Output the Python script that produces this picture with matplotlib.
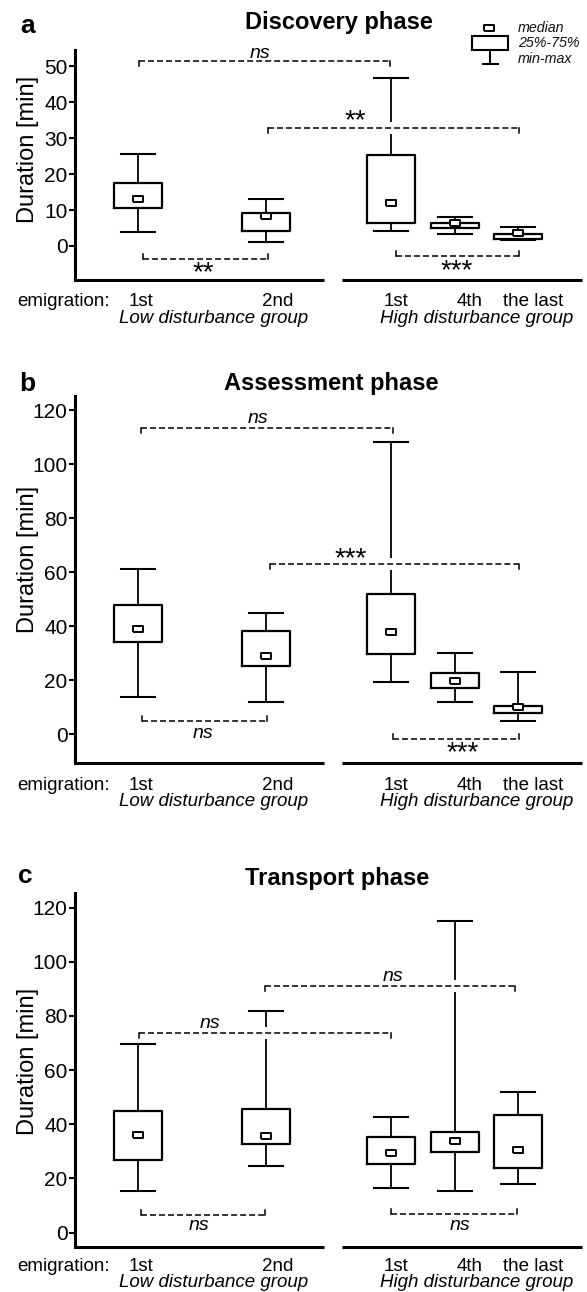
import matplotlib

matplotlib.use("Agg")
import matplotlib.pyplot as plt
import matplotlib.transforms as mtransforms
from matplotlib.patches import Rectangle

plt.rcParams['font.family'] = ['Liberation Sans', 'DejaVu Sans']

W, H, DPI = 587, 1292, 100

# box positions and x labels
positions = [1, 2, 2.98, 3.48, 3.97]
label_pos = [1.02, 2.09, 3.02, 3.59, 4.09]
labels = ["1st", "2nd", "1st", "4th", "the last"]

# Discovery phase (min, q1, median, q3, max)
disc_min = [4.0, 1.1, 4.2, 3.3, 1.8]
disc_q1 = [10.5, 4.2, 6.3, 5.1, 1.9]
disc_med = [13.1, 8.2, 11.9, 6.5, 3.7]
disc_q3 = [17.5, 9.3, 25.4, 6.4, 3.4]
disc_max = [25.7, 13.0, 46.8, 8.1, 5.3]

# Assessment phase
assess_min = [13.9, 12.0, 19.2, 11.8, 4.8]
assess_q1 = [34.3, 25.3, 29.7, 17.0, 7.8]
assess_med = [38.9, 29.1, 37.9, 19.6, 10.0]
assess_q3 = [47.9, 38.1, 51.9, 22.6, 10.5]
assess_max = [61.3, 44.9, 108.2, 30.2, 23.1]

# Transport phase
trans_min = [15.5, 24.7, 16.6, 15.5, 17.8]
trans_q1 = [26.8, 32.7, 25.4, 29.9, 23.8]
trans_med = [35.9, 35.7, 29.5, 33.8, 30.5]
trans_q3 = [44.9, 45.7, 35.2, 37.3, 43.3]
trans_max = [69.5, 82.0, 42.7, 115.1, 51.8]

# significance brackets: x1, x2, y, ticks down?, label, label x, label y (glyph centre)
disc_sig = [
    (1.01, 2.97, 51.4, True, "ns", 1.95, 53.8),
    (2.02, 3.98, 32.9, True, "**", 2.70, 35.9),
    (1.04, 2.02, -3.7, False, "**", 1.51, -6.4),
    (3.02, 3.98, -2.8, False, "***", 3.49, -5.8),
]
assess_sig = [
    (1.02, 2.99, 113.2, True, "ns", 1.94, 116.9),
    (2.03, 3.98, 63.0, True, "***", 2.66, 66.4),
    (1.03, 2.01, 5.1, False, "ns", 1.51, 0.4),
    (2.99, 3.98, -1.7, False, "***", 3.54, -5.4),
]
trans_sig = [
    (1.01, 2.98, 73.7, True, "ns", 1.56, 77.3),
    (1.99, 3.95, 91.1, True, "ns", 2.99, 94.8),
    (1.02, 1.99, 6.5, False, "ns", 1.48, 2.8),
    (2.98, 3.96, 6.8, False, "ns", 3.52, 2.8),
]

panels = [
    dict(letter="a", title="Discovery phase", mins=disc_min, q1=disc_q1, med=disc_med, q3=disc_q3,
         maxs=disc_max, sig=disc_sig, top=50, bottom=280, ylim=(-9.46, 54.5), yticks=range(0, 51, 10),
         letter_xy=(20, 33), title_xy=(339, 29), ylab_y=149, lab_off=26, grp_off=43),
    dict(letter="b", title="Assessment phase", mins=assess_min, q1=assess_q1, med=assess_med, q3=assess_q3,
         maxs=assess_max, sig=assess_sig, top=395.7, bottom=763.3, ylim=(-10.7, 125.3), yticks=range(0, 121, 20),
         letter_xy=(19, 391), title_xy=(331, 390), ylab_y=559, lab_off=27, grp_off=43),
    dict(letter="c", title="Transport phase", mins=trans_min, q1=trans_q1, med=trans_med, q3=trans_q3,
         maxs=trans_max, sig=trans_sig, top=893.3, bottom=1246.7, ylim=(-5.2, 125.3), yticks=range(0, 121, 20),
         letter_xy=(18, 883), title_xy=(337, 885), ylab_y=1061, lab_off=24, grp_off=40),
]

AX_LEFT, AX_RIGHT = 75, 582
XLIM = (0.508, 4.47)
LEFT_END, RIGHT_START = 2.453, 2.594

median_marker = [(-1, -0.5), (1, -0.5), (1, 0.5), (-1, 0.5), (-1, -0.5)]
STAR_SIZE, NS_SIZE = 20, 14

fig = plt.figure(figsize=(W / DPI, H / DPI), dpi=DPI)

# overlay in pixel coordinates for titles, panel letters and the key
over = fig.add_axes([0, 0, 1, 1])
over.set_xlim(0, W)
over.set_ylim(H, 0)
over.axis("off")

for p in panels:
    ax = fig.add_axes([AX_LEFT / W, (H - p["bottom"]) / H,
                       (AX_RIGHT - AX_LEFT) / W, (p["bottom"] - p["top"]) / H])
    ax.set_xlim(*XLIM)
    ax.set_ylim(*p["ylim"])
    ax.patch.set_alpha(0)

    stats = [dict(med=m, q1=a, q3=b, whislo=lo, whishi=hi)
             for lo, a, m, b, hi in zip(p["mins"], p["q1"], p["med"], p["q3"], p["maxs"])]
    ax.bxp(stats, positions=positions, widths=0.375, capwidths=0.266, showfliers=False,
           boxprops=dict(color="black", linewidth=1.6),
           whiskerprops=dict(color="black", linewidth=1.3),
           capprops=dict(color="black", linewidth=1.5),
           medianprops=dict(linestyle="none"),
           manage_ticks=False)
    ax.plot(positions, p["med"], linestyle="none", marker=median_marker, markersize=7.6,
            markerfacecolor="white", markeredgecolor="black", markeredgewidth=1.4, zorder=6)

    for side in ("top", "right", "bottom"):
        ax.spines[side].set_visible(False)
    ax.spines["left"].set_linewidth(2.2)
    ax.set_yticks(list(p["yticks"]))
    ax.tick_params(axis="y", length=4.3, width=1.5, pad=1, labelsize=15)
    ax.set_xticks([])

    # split x axis
    xtr = ax.get_xaxis_transform()
    ax.plot([XLIM[0], LEFT_END], [0, 0], transform=xtr, color="black", lw=2.2,
            solid_capstyle="butt", clip_on=False)
    ax.plot([RIGHT_START, XLIM[1]], [0, 0], transform=xtr, color="black", lw=2.2,
            solid_capstyle="butt", clip_on=False)

    # x labels
    lab_tr = mtransforms.offset_copy(xtr, fig=fig, y=-p["lab_off"], units="dots")
    for x, t in zip(label_pos, labels):
        ax.text(x, 0, t, transform=lab_tr, ha="center", va="baseline", fontsize=13.5)
    grp_tr = mtransforms.offset_copy(xtr, fig=fig, y=-p["grp_off"], units="dots")
    ax.text(1.59, 0, "Low disturbance group", transform=grp_tr, ha="center", va="baseline",
            fontsize=13.5, style="italic")
    ax.text(3.65, 0, "High disturbance group", transform=grp_tr, ha="center", va="baseline",
            fontsize=13.5, style="italic")
    over.text(17, p["bottom"] + p["lab_off"], "emigration:", ha="left", va="baseline", fontsize=13.5)

    # brackets
    inv = ax.transData.inverted()
    star_tr = mtransforms.offset_copy(ax.transData, fig=fig, y=-0.40 * STAR_SIZE / 0.72, units="dots")
    ns_tr = mtransforms.offset_copy(ax.transData, fig=fig, y=-0.26 * NS_SIZE / 0.72, units="dots")
    for x1, x2, y, down, txt, lx, ly in p["sig"]:
        ypx = ax.transData.transform((1, y))[1]
        tick = y - inv.transform((1, ypx - 5))[1]
        sgn = -1 if down else 1
        ax.plot([x1, x2], [y, y], color="white", lw=8.6, solid_capstyle="butt", zorder=4)
        ax.plot([x1, x2], [y, y], color="black", lw=1.1, linestyle=(0, (3.9, 2)), zorder=5)
        for x in (x1, x2):
            ax.plot([x, x], [y, y + sgn * tick], color="black", lw=1.1, zorder=5)
        if "*" in txt:
            ax.text(lx, ly, txt, transform=star_tr, ha="center", va="baseline",
                    fontsize=STAR_SIZE, zorder=7)
        else:
            ax.text(lx, ly, txt, transform=ns_tr, ha="center", va="baseline",
                    fontsize=NS_SIZE, style="italic", zorder=7)

    over.text(*p["letter_xy"], p["letter"], ha="left", va="baseline", fontsize=19, fontweight="bold")
    over.text(*p["title_xy"], p["title"], ha="center", va="baseline", fontsize=17, fontweight="bold")
    over.text(28, p["ylab_y"], "Duration [min]", ha="center", va="center", rotation=90, fontsize=17)

# key in panel a
over.plot([489], [28], linestyle="none", marker=median_marker, markersize=7.6,
          markerfacecolor="white", markeredgecolor="black", markeredgewidth=1.4)
over.add_patch(Rectangle((472, 36), 36, 14, fill=False, edgecolor="black", linewidth=1.5))
over.plot([490, 490], [50, 64], color="black", lw=1.5)
over.plot([483, 498], [64, 64], color="black", lw=1.5)
for yy, t in zip([28, 43, 59], ["median", "25%-75%", "min-max"]):
    over.text(518, yy, t, ha="left", va="center", fontsize=10.3, style="italic", color="#111111")

fig.savefig("out.png", dpi=DPI)
